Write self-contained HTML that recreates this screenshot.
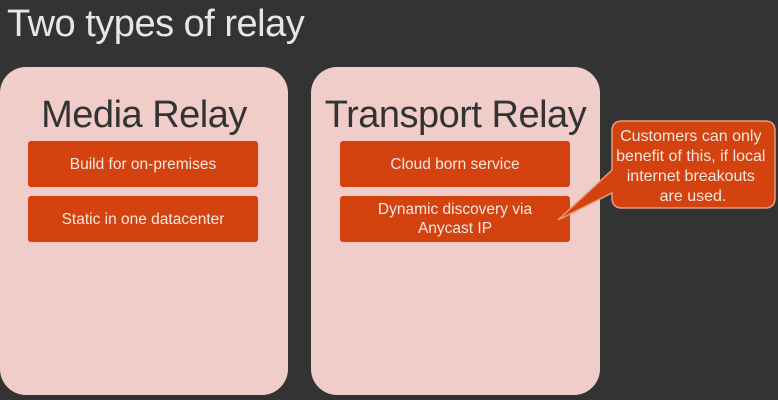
<!DOCTYPE html>
<html><head><style>
body{margin:0;width:778px;height:400px;background:#333333;position:relative;overflow:hidden;font-family:"Liberation Sans",sans-serif}
.t{position:absolute;left:7px;top:3px;font-size:38px;color:#e6e6e6;letter-spacing:-0.5px}
.p{position:absolute;top:67px;height:328px;background:#f1cdca;border-radius:26px}
.h{position:absolute;width:100%;text-align:center;top:27px;font-size:38px;color:#333;letter-spacing:-0.5px}
.b{position:absolute;width:230px;height:46px;background:#d3420f;border-radius:3px;color:#f5e8e0;font-size:15.5px;display:flex;align-items:center;justify-content:center;text-align:center;line-height:19px}
</style></head><body>
<div class="t">Two types of relay</div>
<div class="p" style="left:0;width:288px"><div class="h">Media Relay</div></div>
<div class="p" style="left:311px;width:289px"><div class="h">Transport Relay</div></div>
<div class="b" style="left:28px;top:141px">Build for on-premises</div>
<div class="b" style="left:28px;top:196px">Static in one datacenter</div>
<div class="b" style="left:340px;top:141px">Cloud born service</div>
<div class="b" style="left:340px;top:196px">Dynamic discovery via<br>Anycast IP</div>
<svg style="position:absolute;left:0;top:0" width="778" height="400">
<path d="M622,121 H765 Q775,121 775,131 V198 Q775,208 765,208 H622 Q612,208 612,198 V193 L558,220 L612,170 V131 Q612,121 622,121 Z" fill="#d3420f" stroke="#e89a80" stroke-width="1.5"/>
<text fill="#f5e8e0" font-size="16" text-anchor="middle" font-family="Liberation Sans, sans-serif">
<tspan x="693" y="141">Customers can only</tspan>
<tspan x="693" y="161">benefit of this, if local</tspan>
<tspan x="693" y="181">internet breakouts</tspan>
<tspan x="693" y="201">are used.</tspan></text>
</svg>
</body></html>
